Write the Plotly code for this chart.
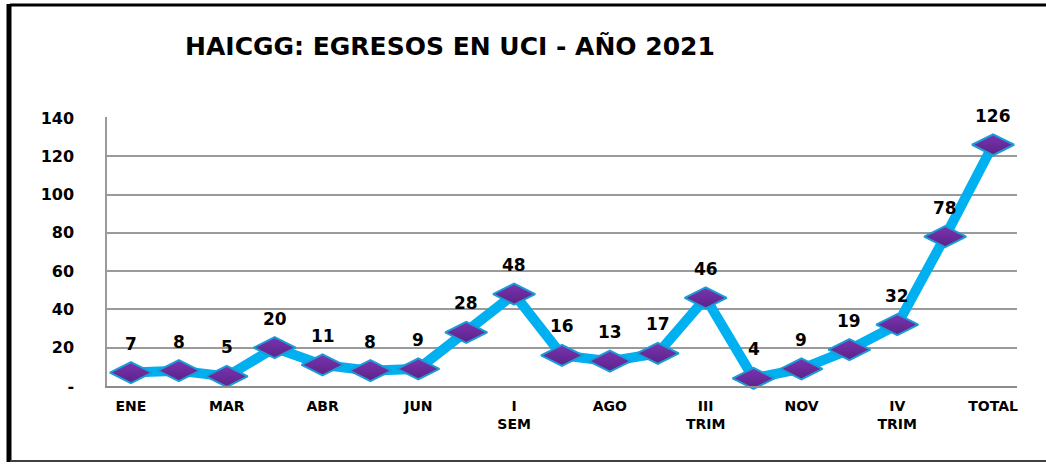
import plotly.graph_objects as go

categories = ["ENE", "FEB", "MAR", "I TRIM", "ABR", "MAY", "JUN", "II TRIM", "I SEM",
              "JUL", "AGO", "SEP", "III TRIM", "OCT", "NOV", "DIC", "IV TRIM", "II SEM", "TOTAL"]
values = [7, 8, 5, 20, 11, 8, 9, 28, 48, 16, 13, 17, 46, 4, 9, 19, 32, 78, 126]
shown_ticks = ["ENE", "MAR", "ABR", "JUN", "I SEM", "AGO", "III TRIM", "NOV", "IV TRIM", "TOTAL"]
shown_text = ["ENE", "MAR", "ABR", "JUN", "I<br>SEM", "AGO", "III<br>TRIM", "NOV", "IV<br>TRIM", "TOTAL"]
y_ticks = [0, 20, 40, 60, 80, 100, 120, 140]
y_text = ["-", "20", "40", "60", "80", "100", "120", "140"]
title = "HAICGG: EGRESOS EN UCI - AÑO 2021"

W, H = 1046, 464
L, R, T, B = 107, 29, 117, 78
PW, PH = W - L - R, H - T - B

def px_x(x):
    return (x - L) / PW

def px_y(y):
    return (H - B - y) / PH

lab_font = dict(family="DejaVu Sans", size=17, color="#000000")

fig = go.Figure()
fig.add_trace(go.Scatter(
    x=categories, y=values, mode="lines",
    line=dict(color="#00B0F0", width=10),
    hoverinfo="skip", cliponaxis=False, showlegend=False,
))
fig.add_trace(go.Scatter(
    x=categories, y=values, mode="markers",
    marker=dict(symbol="diamond-wide", size=30, color="#7A34B0",
                line=dict(color="#1A9CD6", width=2),
                gradient=dict(type="vertical", color="#5B2288")),
    cliponaxis=False, showlegend=False,
))

for c, v in zip(categories, values):
    fig.add_annotation(x=c, y=v, text=f"<b>{v}</b>", showarrow=False,
                       yshift=29, font=lab_font)

shapes = [
    dict(type="line", xref="paper", yref="paper", x0=px_x(10), x1=px_x(W + 5),
         y0=px_y(5), y1=px_y(5), line=dict(color="#000000", width=3)),
    dict(type="line", xref="paper", yref="paper", x0=px_x(9), x1=px_x(9),
         y0=px_y(4), y1=px_y(462), line=dict(color="#000000", width=5)),
    dict(type="line", xref="paper", yref="paper", x0=px_x(10), x1=px_x(W + 5),
         y0=px_y(461), y1=px_y(461), line=dict(color="#404040", width=2)),
]

fig.update_layout(
    width=W, height=H,
    margin=dict(l=L, r=R, t=T, b=B),
    paper_bgcolor="#FFFFFF", plot_bgcolor="#FFFFFF",
    title=dict(text="<b>" + title + "</b>", x=450 / W, xanchor="center",
               y=1 - 46 / H, yanchor="middle",
               font=dict(family="DejaVu Sans", size=25, color="#000000")),
    shapes=shapes,
    xaxis=dict(type="category", categoryorder="array", categoryarray=categories,
               range=[-0.5, len(categories) - 0.5],
               tickmode="array", tickvals=shown_ticks, ticktext=["<b>" + t + "</b>" for t in shown_text],
               tickfont=dict(family="DejaVu Sans", size=14, color="#000000"),
               showgrid=False, showline=True, linecolor="#8C8C8C", linewidth=1.5,
               ticks="", ticklabelstandoff=6, zeroline=False),
    yaxis=dict(range=[0, 140.5], tickmode="array", tickvals=y_ticks,
               ticktext=["<b>" + t + "</b>" for t in y_text],
               tickfont=dict(family="DejaVu Sans", size=16, color="#000000"),
               showgrid=True, gridcolor="#9A9A9A", gridwidth=1.5,
               showline=True, linecolor="#9A9A9A", linewidth=1.5,
               ticks="", ticklabelstandoff=28, zeroline=False),
)

fig.write_html("out.html", config={"displayModeBar": False},
               post_script="document.body.style.margin='0';document.body.style.padding='0';document.body.style.overflow='hidden';")
